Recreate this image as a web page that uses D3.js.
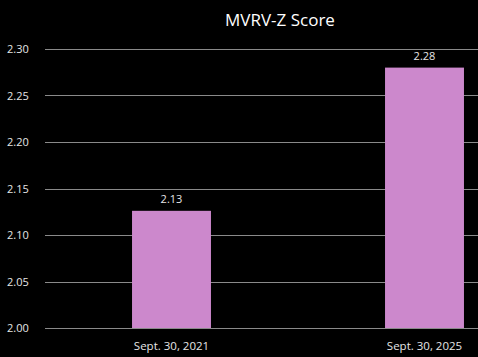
<!DOCTYPE html>
<html><head><meta charset="utf-8">
<script src="https://cdn.jsdelivr.net/npm/d3@7"></script>
<style>html,body{margin:0;padding:0;background:#000;}svg{display:block;}</style>
</head><body>
<script>
const categories = ["Sept. 30, 2021", "Sept. 30, 2025"];
const values = [2.126, 2.28];
const valueLabels = ["2.13", "2.28"];
const yTicks = [2.00, 2.05, 2.10, 2.15, 2.20, 2.25, 2.30];
const title = "MVRV-Z Score";

const W = 478, H = 357;
const svg = d3.select("body").append("svg").attr("width", W).attr("height", H)
  .style("background", "#000");
const font = "'Open Sans', 'Noto Sans', sans-serif";

const y = d3.scaleLinear().domain([2.0, 2.3]).range([328, 49]);
const x = d3.scaleBand().domain(categories).range([45, 551])
  .paddingInner(0.688).paddingOuter(0.344);

// gridlines
svg.append("g").selectAll("line").data(yTicks).join("line")
  .attr("x1", 45).attr("x2", W)
  .attr("y1", d => Math.round(y(d)) + 0.5).attr("y2", d => Math.round(y(d)) + 0.5)
  .attr("stroke", "#8a8a8a").attr("stroke-width", 1);

// y tick labels
svg.append("g").selectAll("text").data(yTicks).join("text")
  .attr("x", 7).attr("y", d => y(d) + 4)
  .attr("fill", "#e6e6e6").attr("font-family", font).attr("font-size", 11)
  .text(d => d.toFixed(2));

// bars
svg.append("g").selectAll("rect").data(values).join("rect")
  .attr("x", (d, i) => x(categories[i]))
  .attr("width", x.bandwidth())
  .attr("y", d => y(d))
  .attr("height", d => y(2.0) - y(d))
  .attr("fill", "#cc88cc");

// value labels
svg.append("g").selectAll("text").data(values).join("text")
  .attr("x", (d, i) => x(categories[i]) + x.bandwidth() / 2)
  .attr("y", d => y(d) - 8)
  .attr("text-anchor", "middle")
  .attr("fill", "#e6e6e6").attr("font-family", font).attr("font-size", 11)
  .text((d, i) => valueLabels[i]);

// x labels
svg.append("g").selectAll("text").data(categories).join("text")
  .attr("x", d => x(d) + x.bandwidth() / 2)
  .attr("y", 350)
  .attr("text-anchor", "middle")
  .attr("fill", "#e6e6e6").attr("font-family", font).attr("font-size", 11.5)
  .text(d => d);

// title
svg.append("text").attr("x", 280).attr("y", 26)
  .attr("text-anchor", "middle")
  .attr("fill", "#ffffff").attr("font-family", font).attr("font-size", 17)
  .text(title);
</script>
</body></html>
